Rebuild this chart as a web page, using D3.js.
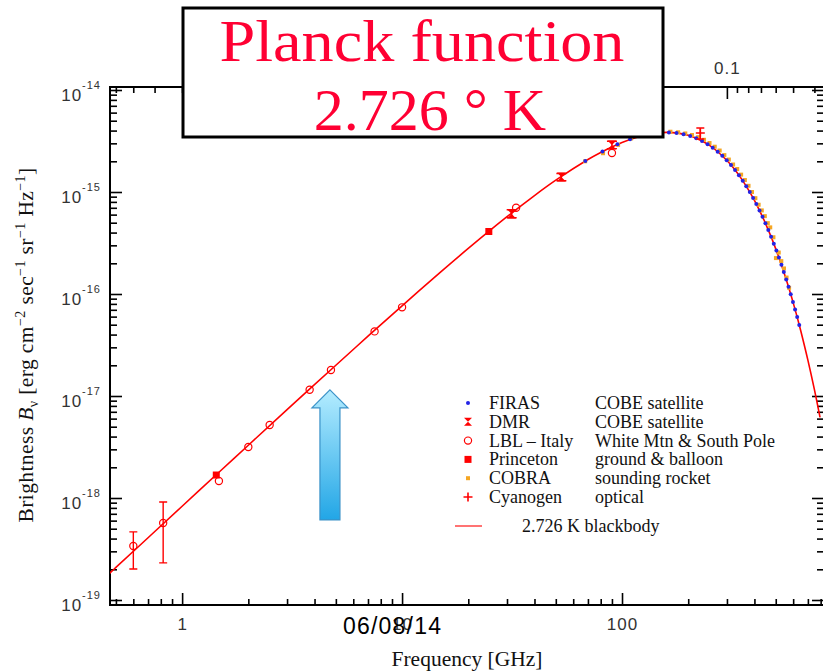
<!DOCTYPE html>
<html>
<head>
<meta charset="utf-8">
<script src="https://cdn.jsdelivr.net/npm/d3@7"></script>
<style>
  html, body { margin: 0; padding: 0; background: #fff; }
  svg { display: block; }
</style>
</head>
<body>
<svg id="chart" width="823" height="671"></svg>
<script>
// ---- Data: cosmic microwave background spectrum ----
// Frequencies in GHz, brightness in erg cm^-2 s^-1 sr^-1 Hz^-1

// 2.726 K blackbody reference curve
const blackbodyFreq = [0.45, 0.5, 0.7, 1, 1.5, 2, 3, 5, 7, 10, 15, 20, 30, 40, 50, 70, 80, 100,
  120, 140, 160, 180, 200, 230, 250, 270, 300, 320, 350, 380, 400, 420, 450, 480, 500, 520,
  550, 580, 600, 620, 640, 650, 700, 750, 795];
const blackbodyB = [1.689e-19, 2.085e-19, 4.079e-19, 8.302e-19, 1.860e-18, 3.292e-18, 7.341e-18,
  2.003e-17, 3.856e-17, 7.660e-17, 1.647e-16, 2.795e-16, 5.722e-16, 9.231e-16, 1.306e-15,
  2.082e-15, 2.444e-15, 3.062e-15, 3.505e-15, 3.760e-15, 3.841e-15, 3.774e-15, 3.594e-15,
  3.184e-15, 2.860e-15, 2.524e-15, 2.034e-15, 1.734e-15, 1.336e-15, 1.007e-15, 8.257e-16,
  6.720e-16, 4.873e-16, 3.487e-16, 2.771e-16, 2.192e-16, 1.529e-16, 1.058e-16, 8.233e-17,
  6.388e-17, 4.941e-17, 4.341e-17, 2.248e-17, 1.147e-17, 6.184e-18];

// FIRAS (COBE satellite)
const firasFreq = [68.1, 81.5, 95.3, 108.8, 122.3, 136.1, 149.6, 163.4, 176.9, 190.4, 204.2, 217.6,
  231.1, 244.9, 258.4, 272.2, 285.7, 299.2, 313.0, 326.5, 340.0, 353.8, 367.2, 381.0, 394.5,
  408.0, 421.8, 435.3, 448.8, 462.6, 476.1, 489.9, 503.3, 516.8, 530.6, 544.1, 557.9, 571.4,
  584.9, 598.7, 612.2, 625.7, 639.4];
const firasB = [2.011e-15, 2.495e-15, 2.931e-15, 3.281e-15, 3.544e-15, 3.725e-15, 3.819e-15,
  3.839e-15, 3.793e-15, 3.693e-15, 3.546e-15, 3.369e-15, 3.167e-15, 2.944e-15, 2.719e-15,
  2.487e-15, 2.263e-15, 2.047e-15, 1.836e-15, 1.642e-15, 1.461e-15, 1.290e-15, 1.139e-15,
  9.973e-16, 8.728e-16, 7.611e-16, 6.595e-16, 5.714e-16, 4.937e-16, 4.241e-16, 3.645e-16,
  3.113e-16, 2.667e-16, 2.276e-16, 1.932e-16, 1.643e-16, 1.389e-16, 1.176e-16, 9.949e-17,
  8.367e-17, 7.055e-17, 5.939e-17, 4.979e-17];

// COBRA (sounding rocket)
const cobraFreq = [68, 82, 96, 110, 124, 138, 152, 166, 180, 194, 208, 222, 236, 250, 264, 278,
  292, 306, 320, 334, 348, 362, 376, 390, 404, 418, 432, 446, 460, 472, 488, 501, 516, 530,
  545, 560, 575];
const cobraB = [2.0e-15, 2.40e-15, 2.9e-15, 3.35e-15, 3.6e-15, 3.78e-15, 3.9e-15, 3.9e-15,
  3.85e-15, 3.75e-15, 3.62e-15, 3.45e-15, 3.25e-15, 3.02e-15, 2.78e-15, 2.55e-15, 2.3e-15,
  2.08e-15, 1.86e-15, 1.68e-15, 1.48e-15, 1.31e-15, 1.15e-15, 1.0e-15, 8.7e-16, 7.5e-16,
  6.6e-16, 5.8e-16, 4.95e-16, 4.5e-16, 3.6e-16, 2.25e-16, 2.55e-16, 2.1e-16, 1.78e-16,
  1.45e-16, 1.15e-16];

// DMR (COBE satellite), with error bars
const dmrFreq = [31.5, 53, 90];
const dmrB = [6.1e-16, 1.40e-15, 2.89e-15];
const dmrLow = [5.6e-16, 1.29e-15, 2.66e-15];
const dmrHigh = [6.7e-16, 1.52e-15, 3.14e-15];

// LBL - Italy (White Mtn & South Pole); error bars where given
const lblFreq = [0.6, 0.82, 1.47, 2.0, 2.5, 3.8, 4.75, 7.5, 10, 33, 90];
const lblB = [3.38e-19, 5.69e-19, 1.47e-18, 3.16e-18, 5.2e-18, 1.15e-17, 1.8e-17, 4.3e-17,
  7.4e-17, 7.0e-16, 2.41e-15];
const lblLow = [2.01e-19, 2.31e-19, null, null, null, null, null, null, null, null, null];
const lblHigh = [4.65e-19, 9.14e-19, null, null, null, null, null, null, null, null, null];

// Princeton (ground & balloon)
const princetonFreq = [1.43, 24.8];
const princetonB = [1.68e-18, 4.1e-16];

// Cyanogen (optical)
const cyanogenFreq = [227];
const cyanogenB = [3.79e-15];
const cyanogenLow = [3.31e-15];
const cyanogenHigh = [4.24e-15];

// Axis ticks
const yTickExponents = [-19, -18, -17, -16, -15, -14];
const freqTickLabels = [1, 10, 100];
const wavelengthMajor = [10, 1, 0.1];          // cm, top axis
const wavelengthLabels = [0.1];                // the others sit under the title box
const wavelengthMinor = [60, 50, 40, 30, 20, 9, 8, 7, 6, 5, 4, 3, 2,
  0.9, 0.8, 0.7, 0.6, 0.5, 0.4, 0.3, 0.2, 0.09, 0.08, 0.07, 0.06, 0.05, 0.04];

// Legend text
const legendNames = ["FIRAS", "DMR", "LBL \u2013 Italy", "Princeton", "COBRA", "Cyanogen"];
const legendDescs = ["COBE satellite", "COBE satellite", "White Mtn & South Pole",
  "ground & balloon", "sounding rocket", "optical"];
const legendLineLabel = "2.726 K blackbody";

// Arrow annotation (frequency, tip and tail brightness)
const arrowFreq = 4.7;
const arrowTipB = 1.15e-17;
const arrowTailB = 6.1e-19;

// ---- Layout ----
const svg = d3.select("#chart");
const X0 = 110, X1 = 824, Y0 = 87, Y1 = 605;
const C_LIGHT = 29.9792458; // GHz * cm

const x = d3.scaleLog().domain([0.47, 820]).range([110, 823]);
const y = d3.scaleLog().domain([1e-19, 1e-14]).range([600, 90]);
// wavelength (cm) scale for the top axis, aligned with the frequency scale
const xw = d3.scaleLog()
  .domain([C_LIGHT / x.domain()[0], C_LIGHT / x.domain()[1]])
  .range(x.range());

const RED = "#ff0000";
const serif = "'Liberation Serif', 'Times New Roman', serif";
const sans = "'Liberation Sans', Arial, sans-serif";

const defs = svg.append("defs");
defs.append("clipPath").attr("id", "plot-clip")
  .append("rect").attr("x", X0).attr("y", Y0).attr("width", X1 - X0).attr("height", Y1 - Y0);

const arrowGrad = defs.append("linearGradient").attr("id", "arrow-grad")
  .attr("x1", 0).attr("y1", 0).attr("x2", 0).attr("y2", 1);
arrowGrad.append("stop").attr("offset", "0%").attr("stop-color", "#b4ecff");
arrowGrad.append("stop").attr("offset", "100%").attr("stop-color", "#22a6e6");

// ---- Axes ----
const majorY = yTickExponents.map(e => Math.pow(10, e));
const minorY = [];
yTickExponents.slice(0, -1).forEach(e => {
  for (let k = 2; k < 10; k++) minorY.push(k * Math.pow(10, e));
});
const minorX = [0.5, 0.6, 0.7, 0.8, 0.9];
[1, 10, 100].forEach(d => { for (let k = 2; k < 10; k++) if (k * d <= 820) minorX.push(k * d); });

function cleanAxis(g) {
  g.select(".domain").remove();
  g.selectAll(".tick line").attr("stroke", "#000").attr("stroke-width", 1.6);
}
function labelStyle(g) {
  g.selectAll("text").attr("fill", "#333").style("font-family", sans)
    .style("font-size", "17px").style("letter-spacing", "1px");
}

// left
svg.append("g").attr("transform", `translate(${X0},0)`)
  .call(d3.axisRight(y).tickValues(minorY).tickSize(7).tickFormat(""))
  .call(cleanAxis);
svg.append("g").attr("transform", `translate(${X0},0)`)
  .call(d3.axisRight(y).tickValues(majorY).tickSize(12).tickFormat(""))
  .call(cleanAxis);
// right
svg.append("g").attr("transform", `translate(${X1},0)`)
  .call(d3.axisLeft(y).tickValues(minorY).tickSize(7).tickFormat(""))
  .call(cleanAxis);
svg.append("g").attr("transform", `translate(${X1},0)`)
  .call(d3.axisLeft(y).tickValues(majorY).tickSize(12).tickFormat(""))
  .call(cleanAxis);
// bottom (frequency)
svg.append("g").attr("transform", `translate(0,${Y1})`)
  .call(d3.axisTop(x).tickValues(minorX).tickSize(6).tickFormat(""))
  .call(cleanAxis);
svg.append("g").attr("transform", `translate(0,${Y1})`)
  .call(d3.axisBottom(x).tickValues(freqTickLabels).tickSizeInner(-12).tickSizeOuter(0)
    .tickPadding(13).tickFormat(d => String(d)))
  .call(cleanAxis).call(labelStyle);
// top (wavelength in cm)
svg.append("g").attr("transform", `translate(0,${Y0})`)
  .call(d3.axisBottom(xw).tickValues(wavelengthMinor).tickSize(6).tickFormat(""))
  .call(cleanAxis);
svg.append("g").attr("transform", `translate(0,${Y0})`)
  .call(d3.axisBottom(xw).tickValues(wavelengthMajor).tickSize(12).tickFormat(""))
  .call(cleanAxis);
svg.append("g").attr("transform", `translate(0,${Y0})`)
  .call(d3.axisTop(xw).tickValues(wavelengthLabels).tickSizeInner(0).tickSizeOuter(0)
    .tickPadding(13).tickFormat(d => String(d)))
  .call(cleanAxis).call(labelStyle);

// y tick labels as powers of ten
const ylab = svg.append("g").selectAll("text").data(yTickExponents).join("text")
  .attr("x", X0 - 9).attr("y", d => y(Math.pow(10, d)) + 11)
  .attr("text-anchor", "end").attr("fill", "#333")
  .style("font-family", sans).style("font-size", "17px").style("letter-spacing", "1px");
ylab.append("tspan").text("10");
ylab.append("tspan").attr("dy", -12).style("font-size", "11px").text(d => String(d));

// frame
svg.append("rect").attr("x", X0).attr("y", Y0).attr("width", X1 - X0).attr("height", Y1 - Y0)
  .attr("fill", "none").attr("stroke", "#000").attr("stroke-width", 2);

// ---- Marks ----
const plot = svg.append("g").attr("clip-path", "url(#plot-clip)");

const bbData = blackbodyFreq.map((f, i) => ({ f, b: blackbodyB[i] }));
plot.append("path").datum(bbData)
  .attr("d", d3.line().x(d => x(d.f)).y(d => y(d.b)).curve(d3.curveCatmullRom.alpha(0.5)))
  .attr("fill", "none").attr("stroke", RED).attr("stroke-width", 1.6);

const hourglass = s => `M${-s},${-s}L${s},${-s}L${-s},${s}L${s},${s}Z`;
const plus = s => `M${-s},0L${s},0M0,${-s}L0,${s}`;

function errorBars(g, freq, lo, hi, cap) {
  const rows = freq.map((f, i) => ({ f, lo: lo[i], hi: hi[i] })).filter(d => d.lo != null);
  const eb = g.append("g").attr("stroke", RED).attr("stroke-width", 1.4).attr("fill", "none");
  eb.selectAll("path").data(rows).join("path")
    .attr("d", d => {
      const cx = x(d.f), y1 = y(d.hi), y2 = y(d.lo);
      return `M${cx},${y1}L${cx},${y2}M${cx - cap},${y1}L${cx + cap},${y1}M${cx - cap},${y2}L${cx + cap},${y2}`;
    });
}

// COBRA
plot.append("g").selectAll("rect").data(cobraFreq.map((f, i) => ({ f, b: cobraB[i] }))).join("rect")
  .attr("x", d => x(d.f) - 2).attr("y", d => y(d.b) - 2).attr("width", 4).attr("height", 4)
  .attr("fill", "#f5a623");

// FIRAS
plot.append("g").selectAll("circle").data(firasFreq.map((f, i) => ({ f, b: firasB[i] }))).join("circle")
  .attr("cx", d => x(d.f)).attr("cy", d => y(d.b)).attr("r", 2)
  .attr("fill", "#2323e6");

// LBL - Italy
errorBars(plot, lblFreq, lblLow, lblHigh, 4);
plot.append("g").selectAll("circle").data(lblFreq.map((f, i) => ({ f, b: lblB[i] }))).join("circle")
  .attr("cx", d => x(d.f)).attr("cy", d => y(d.b)).attr("r", 3.6)
  .attr("fill", "none").attr("stroke", RED).attr("stroke-width", 1.2);

// Princeton
plot.append("g").selectAll("rect").data(princetonFreq.map((f, i) => ({ f, b: princetonB[i] }))).join("rect")
  .attr("x", d => x(d.f) - 3.5).attr("y", d => y(d.b) - 3.5).attr("width", 7).attr("height", 7)
  .attr("fill", RED);

// DMR
errorBars(plot, dmrFreq, dmrLow, dmrHigh, 5);
plot.append("g").selectAll("path").data(dmrFreq.map((f, i) => ({ f, b: dmrB[i] }))).join("path")
  .attr("transform", d => `translate(${x(d.f)},${y(d.b)})`)
  .attr("d", hourglass(4.5)).attr("fill", RED);

// Cyanogen
errorBars(plot, cyanogenFreq, cyanogenLow, cyanogenHigh, 4);
plot.append("g").selectAll("path").data(cyanogenFreq.map((f, i) => ({ f, b: cyanogenB[i] }))).join("path")
  .attr("transform", d => `translate(${x(d.f)},${y(d.b)})`)
  .attr("d", plus(4.5)).attr("stroke", RED).attr("stroke-width", 1.6).attr("fill", "none");

// ---- Arrow annotation ----
{
  const ax = x(arrowFreq), tip = y(arrowTipB), tail = y(arrowTailB);
  const headW = 18, headH = 18, shaftW = 10;
  const p = [
    [ax, tip], [ax + headW, tip + headH], [ax + shaftW, tip + headH], [ax + shaftW, tail],
    [ax - shaftW, tail], [ax - shaftW, tip + headH], [ax - headW, tip + headH]
  ];
  svg.append("path").attr("d", "M" + p.map(q => q.join(",")).join("L") + "Z")
    .attr("fill", "url(#arrow-grad)").attr("stroke", "#3a92c8").attr("stroke-width", 1.2);
}

// ---- Legend ----
const lg = svg.append("g");
const legX = 468, nameX = 489, descX = 595, row0 = 403, rowStep = 18.8;
const legText = { "font-family": serif, "font-size": "18px", fill: "#111" };
legendNames.forEach((name, i) => {
  const cy = row0 + i * rowStep;
  const t1 = lg.append("text").attr("x", nameX).attr("y", cy + 6).text(name);
  const t2 = lg.append("text").attr("x", descX).attr("y", cy + 6).text(legendDescs[i]);
  [t1, t2].forEach(t => Object.entries(legText).forEach(([k, v]) => t.style(k, v)));
});
const sym = i => row0 + i * rowStep;
lg.append("circle").attr("cx", legX).attr("cy", sym(0)).attr("r", 2).attr("fill", "#2323e6");
lg.append("path").attr("transform", `translate(${legX},${sym(1)})`).attr("d", hourglass(4)).attr("fill", RED);
lg.append("circle").attr("cx", legX).attr("cy", sym(2)).attr("r", 3.6)
  .attr("fill", "none").attr("stroke", RED).attr("stroke-width", 1.2);
lg.append("rect").attr("x", legX - 3.5).attr("y", sym(3) - 3.5).attr("width", 7).attr("height", 7).attr("fill", RED);
lg.append("rect").attr("x", legX - 2).attr("y", sym(4) - 2).attr("width", 4).attr("height", 4).attr("fill", "#f5a623");
lg.append("path").attr("transform", `translate(${legX},${sym(5)})`).attr("d", plus(4.5))
  .attr("stroke", RED).attr("stroke-width", 1.6).attr("fill", "none");
lg.append("line").attr("x1", 455).attr("x2", 482).attr("y1", 526).attr("y2", 526)
  .attr("stroke", "#ff5050").attr("stroke-width", 1.6);
{
  const t = lg.append("text").attr("x", 522).attr("y", 532).text(legendLineLabel);
  Object.entries(legText).forEach(([k, v]) => t.style(k, v));
}

// ---- Axis titles ----
{
  const parts = [
    { t: "Brightness " }, { t: "B", italic: true }, { t: "\u03bd", sub: true },
    { t: " [erg cm" }, { t: "\u22122", sup: true }, { t: " sec" }, { t: "\u22121", sup: true },
    { t: " sr" }, { t: "\u22121", sup: true }, { t: " Hz" }, { t: "\u22121", sup: true }, { t: "]" }
  ];
  const yt = svg.append("text").attr("transform", "translate(33,345) rotate(-90)")
    .attr("text-anchor", "middle").attr("fill", "#111")
    .style("font-family", serif).style("font-size", "21.5px").style("letter-spacing", "0.4px");
  let shift = 0;
  parts.forEach(p => {
    const target = p.sup ? -8 : p.sub ? 5 : 0;
    const ts = yt.append("tspan").attr("dy", target - shift).text(p.t);
    shift = target;
    if (p.italic) ts.style("font-style", "italic");
    if (p.sup || p.sub) ts.style("font-size", "14px");
  });
}
svg.append("text").attr("x", 467).attr("y", 666).attr("text-anchor", "middle").attr("fill", "#111")
  .style("font-family", serif).style("font-size", "21.5px").text("Frequency [GHz]");

// ---- Title box ----
svg.append("rect").attr("x", 183).attr("y", 8).attr("width", 480).attr("height", 129)
  .attr("fill", "#fff").attr("stroke", "#000").attr("stroke-width", 3);
svg.append("text").attr("x", 422).attr("y", 61).attr("text-anchor", "middle")
  .attr("fill", "#ff0033").style("font-family", serif).style("font-size", "60px")
  .attr("textLength", 405).attr("lengthAdjust", "spacingAndGlyphs").text("Planck function");
svg.append("text").attr("x", 430).attr("y", 130).attr("text-anchor", "middle")
  .attr("fill", "#ff0033").style("font-family", serif).style("font-size", "60px")
  .text("2.726 \u00b0 K");

// ---- Footer date ----
svg.append("text").attr("x", 343).attr("y", 634).attr("fill", "#000")
  .style("font-family", sans).style("font-size", "23px").style("letter-spacing", "1.2px")
  .text("06/08/14");
</script>
</body>
</html>
